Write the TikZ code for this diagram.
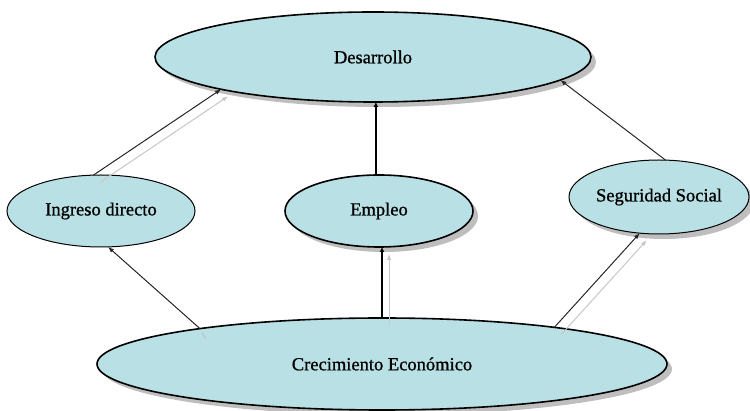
\documentclass[tikz,border=0pt]{standalone}
\usepackage{fontspec}
\setmainfont{Liberation Serif}
\newfontfamily\ovalfont{Liberation Serif}[FakeBold=0.9]
\usetikzlibrary{shapes.geometric,shadows,arrows.meta,calc}
\definecolor{ovalfill}{RGB}{185,224,228}
\definecolor{shadowgray}{RGB}{190,190,190}
\begin{document}
\begin{tikzpicture}[x=1pt,y=-1pt,
  oval/.style={ellipse, draw=black, fill=ovalfill, inner sep=0pt, outer sep=0pt,
    font=\ovalfont\fontsize{18.5}{22}\selectfont},
  shad/.style={drop shadow={shadow xshift=5pt,shadow yshift=-5pt,fill=shadowgray,opacity=1}},
  conn/.style={draw=black!85, line width=1pt, -{Latex[length=6pt,width=4.5pt]}},
  heavyconn/.style={draw=black, line width=2pt, -{Latex[length=5pt,width=5pt]}},
  ghost/.style={draw=black!22, line width=1pt, -{Latex[length=6pt,width=4.5pt]},
    transform canvas={xshift=7pt,yshift=-7pt}},
  ghoststub/.style={draw=black!25, line width=1pt}
]
\useasboundingbox (0,0) rectangle (750,411);

\node[oval,shad,line width=1.6pt,minimum width=436pt,minimum height=90pt] (des) at (373,57) {Desarrollo};
\node[oval,line width=1pt,minimum width=188pt,minimum height=72pt] (ing) at (101,211) {Ingreso directo};
\node[oval,shad,line width=1.6pt,minimum width=188pt,minimum height=72pt] (emp) at (379,211) {Empleo};
\node[oval,shad,line width=1pt,minimum width=180pt,minimum height=74pt] (seg) at (659,197) {Seguridad Social};
\node[oval,shad,line width=1.6pt,minimum width=570pt,minimum height=92pt] (cre) at (382,364) {Crecimiento Económico};

% Ingreso directo -> Desarrollo
\draw[ghost] (ing.102.5) -- (des.192);
\draw[conn] (ing.102.5) -- (des.192);

% Empleo -> Desarrollo
\draw[heavyconn] (emp.95) -- (emp.95 |- des.south);

% Seguridad Social -> Desarrollo
\draw[conn] (seg.80.5) -- (des.353);

% Crecimiento -> Ingreso directo
\draw[conn] (cre.169) -- (ing.281);
\draw[ghoststub] ($(cre.169)+(2,4)$) -- ($(cre.169)+(6,10)$);

% Crecimiento -> Empleo
\draw[ghost] (cre.north) -- (cre.north |- emp.south);
\draw[heavyconn] (cre.north) -- (cre.north |- emp.south);

% Crecimiento -> Seguridad Social
\draw[ghost] (cre.12.7) -- (seg.242);
\draw[conn] (cre.12.7) -- (seg.242);
\end{tikzpicture}
\end{document}
